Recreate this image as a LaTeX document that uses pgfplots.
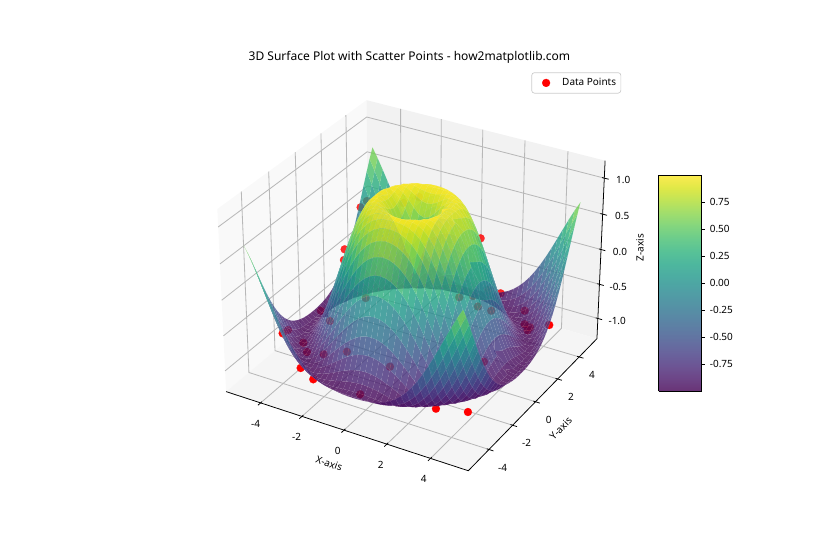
\documentclass[border=0pt]{standalone}
\usepackage{pgfplots}
\usepackage{pgfplotstable}
\usepackage{fontspec}
\setmainfont{Noto Sans}
\pgfplotsset{compat=1.18}
\usepgfplotslibrary{patchplots}
\definecolor{gridc}{gray}{0.72}
\newcommand\DEN[3]{(10-(.04521*(#1)-.07832*(#2)+.17577*(#3)+.00527))}
\newcommand\PXE[3]{(415+2331*(.09043*(#1)+.05221*(#2))/\DEN{#1}{#2}{#3})}
\newcommand\PYE[3]{(283.5+2331*(-.02611*(#1)+.04521*(#2)+.30443*(#3)+.0091)/\DEN{#1}{#2}{#3})}
\pgfplotsset{
 table/proj/.style={x expr={\PXE{\thisrow{x}}{\thisrow{y}}{\thisrow{z}}},y expr={\PYE{\thisrow{x}}{\thisrow{y}}{\thisrow{z}}},z expr={.04521*\thisrow{x}-.07832*\thisrow{y}+.17577*\thisrow{z}},row sep=\\},
 table/quad/.style 2 args={x index=0,y index=0,z index=0,
  x expr={\PXE{#1*.25*floor(\coordindex/21)}{#2*.25*mod(\coordindex,21)}{\thisrow{z}}},
  y expr={\PYE{#1*.25*floor(\coordindex/21)}{#2*.25*mod(\coordindex,21)}{\thisrow{z}}},
  z expr={.04521*(#1*.25*floor(\coordindex/21))-.07832*(#2*.25*mod(\coordindex,21))+.17577*\thisrow{z}}},
 sface/.style={surf,shader=faceted,faceted color=white,fill opacity=.8,draw opacity=.12,line width=.2pt,z buffer=sort,mesh/rows=21,mesh/cols=21,point meta=\thisrow{z},forget plot},
 canvas/.style={at={(0,0)},anchor=south west,scale only axis,width=8.4in,height=5.6in,
  xmin=0,xmax=840,ymin=0,ymax=560,zmin=-3,zmax=3,view={0}{90},hide axis,clip=false,
  colormap/viridis,point meta min=-.999,point meta max=.999}
}
\newcommand\Poly[2]{\addplot3[forget plot,mark=none,#1] table[proj]{x y z\\ #2};}
\newcommand\TL[3]{\node[font=\fontsize{7.2}{9}\selectfont] at (axis cs:#1,#2,0) {#3};}
\pgfplotstableread{
z
0
.247
.479
.682
.841
.949
.997
.984
.909
.778
.598
.382
.141
-.108
-.351
-.572
-.757
-.895
-.978
-.999
-.959
.247
.346
.530
.711
.858
.956
.999
.981
.903
.769
.588
.372
.131
-.118
-.359
-.579
-.762
-.899
-.980
-.999
-.957
.479
.530
.650
.784
.899
.975
1.000
.969
.882
.742
.558
.340
.100
-.146
-.384
-.599
-.777
-.908
-.983
-.998
-.952
.682
.711
.784
.873
.949
.994
.994
.945
.844
.696
.507
.287
.049
-.193
-.424
-.631
-.800
-.922
-.989
-.995
-.942
.841
.858
.899
.949
.988
1.000
.973
.903
.787
.628
.434
.214
-.021
-.256
-.478
-.674
-.831
-.941
-.995
-.990
-.926
.949
.956
.975
.994
1.000
.981
.928
.836
.705
.538
.340
.121
-.108
-.334
-.544
-.725
-.867
-.960
-.999
-.980
-.904
.997
.999
1.000
.994
.973
.928
.852
.742
.598
.424
.224
.009
-.211
-.424
-.618
-.782
-.905
-.979
-1.000
-.964
-.874
.984
.981
.969
.945
.903
.836
.742
.618
.465
.287
.090
-.118
-.325
-.522
-.697
-.839
-.941
-.993
-.993
-.939
-.834
.909
.903
.882
.844
.787
.705
.598
.465
.308
.131
-.060
-.256
-.448
-.625
-.777
-.895
-.971
-1.000
-.978
-.904
-.782
.778
.769
.742
.696
.628
.538
.424
.287
.131
-.040
-.220
-.400
-.572
-.725
-.852
-.943
-.992
-.995
-.950
-.856
-.717
.598
.588
.558
.507
.434
.340
.224
.090
-.060
-.220
-.384
-.544
-.691
-.818
-.917
-.979
-1.000
-.976
-.907
-.793
-.639
.382
.372
.340
.287
.214
.121
.009
-.118
-.256
-.400
-.544
-.680
-.800
-.899
-.966
-.998
-.990
-.939
-.847
-.714
-.546
.141
.131
.100
.049
-.021
-.108
-.211
-.325
-.448
-.572
-.691
-.800
-.891
-.958
-.995
-.996
-.959
-.882
-.767
-.617
-.437
-.108
-.118
-.146
-.193
-.256
-.334
-.424
-.522
-.625
-.725
-.818
-.899
-.958
-.993
-.998
-.969
-.904
-.803
-.668
-.504
-.314
-.351
-.359
-.384
-.424
-.478
-.544
-.618
-.697
-.777
-.852
-.917
-.966
-.995
-.998
-.972
-.914
-.824
-.701
-.550
-.374
-.179
-.572
-.579
-.599
-.631
-.674
-.725
-.782
-.839
-.895
-.943
-.979
-.998
-.996
-.969
-.914
-.830
-.717
-.577
-.413
-.229
-.033
-.757
-.762
-.777
-.800
-.831
-.867
-.905
-.941
-.971
-.992
-1.000
-.990
-.959
-.904
-.824
-.717
-.586
-.432
-.259
-.073
.120
-.895
-.899
-.908
-.922
-.941
-.960
-.979
-.993
-1.000
-.995
-.976
-.939
-.882
-.803
-.701
-.577
-.432
-.269
-.093
.091
.275
-.978
-.980
-.983
-.989
-.995
-.999
-1.000
-.993
-.978
-.950
-.907
-.847
-.767
-.668
-.550
-.413
-.259
-.093
.081
.257
.429
-.999
-.999
-.998
-.995
-.990
-.980
-.964
-.939
-.904
-.856
-.793
-.714
-.617
-.504
-.374
-.229
-.073
.091
.257
.421
.576
-.959
-.957
-.952
-.942
-.926
-.904
-.874
-.834
-.782
-.717
-.639
-.546
-.437
-.314
-.179
-.033
.120
.275
.429
.576
.709
}\zgrid
\begin{document}
\begin{tikzpicture}
\path[use as bounding box] (0,0) rectangle (8.4in,5.6in);
\begin{axis}[canvas,
 legend style={at={(axis cs:621.3,487.7,0)},anchor=north east,draw=black!20,line width=.5pt,rounded corners=2pt,font=\fontsize{7.2}{9}\selectfont,inner xsep=1.5pt,inner ysep=2pt,legend cell align=left,/tikz/every even column/.style={column sep=2pt}},
 legend image code/.code={\path (0,0) (.25in,0);\draw[#1,mark=*] plot coordinates {(.12in,0)};},
]
% panes
\Poly{draw=none,fill={rgb,1:red,.975;green,.975;blue,.975}}{-5.7 -5.7 -1.3\\ -5.7 5.7 -1.3\\ -5.7 5.7 1.24\\ -5.7 -5.7 1.24\\}
\Poly{draw=none,fill={rgb,1:red,.95;green,.95;blue,.95}}{-5.7 5.7 -1.3\\ 5.7 5.7 -1.3\\ 5.7 5.7 1.24\\ -5.7 5.7 1.24\\}
\Poly{draw=none,fill={rgb,1:red,.9625;green,.9625;blue,.9625}}{-5.7 -5.7 -1.3\\ 5.7 -5.7 -1.3\\ 5.7 5.7 -1.3\\ -5.7 5.7 -1.3\\}
% grid
\pgfplotsinvokeforeach{-4,-2,0,2,4}{
 \Poly{draw=gridc,line width=.6pt}{#1 -5.7 -1.3\\ #1 5.7 -1.3\\ #1 5.7 1.24\\}
 \Poly{draw=gridc,line width=.6pt}{5.7 #1 -1.3\\ -5.7 #1 -1.3\\ -5.7 #1 1.24\\}
 \Poly{draw=black,line width=.56pt}{#1 -5.9 -1.3\\ #1 -5.6 -1.3\\}
 \Poly{draw=black,line width=.56pt}{5.9 #1 -1.3\\ 5.6 #1 -1.3\\}
}
\pgfplotsinvokeforeach{-1,-.5,0,.5,1}{
 \Poly{draw=gridc,line width=.6pt}{5.7 5.7 #1\\ -5.7 5.7 #1\\ -5.7 -5.7 #1\\}
 \Poly{draw=black,line width=.56pt}{5.6 5.7 #1\\ 5.9 5.7 #1\\}
}
% axis lines
\Poly{draw=black,line width=.56pt}{-5.7 -5.7 -1.3\\ 5.7 -5.7 -1.3\\ 5.7 5.7 -1.3\\ 5.7 5.7 1.24\\}
% scatter points
\addplot3[color=red,only marks,mark=*,mark size=2.9pt,mark options={line width=.1pt}] coordinates {
(436,151.3,0)(468,148,0)(300.7,192,0)(313.3,180.7,0)(282.7,226.7,0)(549.3,235,0)
};
\addlegendentry{Data Points}
\addplot3[color=red,forget plot,only marks,mark=*,mark size=2.9pt,mark options={line width=.1pt},opacity=.82] coordinates {
(344.7,310.7,0)(344,300,0)(360.7,352.7,0)(480.7,321.7,0)(500.7,266.7,0)
(367,359,0)(365.7,262,0)(321,249.3,0)(330,239,0)(288,230,0)(303.3,217.3,0)(307,208,0)(323.7,205.7,0)
(347,208.3,0)(390,193.3,0)(360.3,165.7,0)(478,253.5,0)(484,198.3,0)(459.3,262.7,0)(473,264,0)
(491.3,249.3,0)(524.7,249.3,0)(524.7,235.7,0)(530,232.7,0)(527.7,229.7,0)(403.5,357,0)(419,363,0)(488,270,0)
};
\end{axis}
\begin{axis}[canvas]
% surface, back to front
\addplot3[sface] table[quad={-1}{1}]\zgrid;
\addplot3[sface] table[quad={-1}{-1}]\zgrid;
\addplot3[sface] table[quad={1}{1}]\zgrid;
\addplot3[sface] table[quad={1}{-1}]\zgrid;
% labels
\node[font=\fontsize{8.7}{11}\selectfont] at (axis cs:409.5,503,0) {3D Surface Plot with Scatter Points - how2matplotlib.com};
\TL{255.7}{136}{-4}\TL{296.7}{122.7}{-2}\TL{337.7}{109}{0}\TL{380.7}{94.7}{2}\TL{423.7}{80.7}{4}
\TL{502.7}{91.7}{-4}\TL{526.7}{116.7}{-2}\TL{548.7}{140}{0}\TL{571}{162.7}{2}\TL{592}{185}{4}
\TL{623.3}{380}{1.0}\TL{622.3}{344}{0.5}\TL{620}{308}{0.0}\TL{618.3}{273}{-0.5}\TL{617.3}{239}{-1.0}
\node[font=\fontsize{7.2}{9}\selectfont,rotate=-20] at (axis cs:329.3,96.7,0) {X-axis};
\node[font=\fontsize{7.2}{9}\selectfont,rotate=46] at (axis cs:560.7,131.7,0) {Y-axis};
\node[font=\fontsize{7.2}{9}\selectfont,rotate=90] at (axis cs:640,312.3,0) {Z-axis};
\end{axis}
\begin{axis}[
 at={(6.585in,1.69in)},anchor=south west,scale only axis,width=.43in,height=2.16in,
 xmin=0,xmax=1,ymin=-.999,ymax=.999,view={0}{90},colormap/viridis,
 xtick=\empty,ytick={-.75,-.5,-.25,0,.25,.5,.75},ytick pos=right,yticklabel pos=right,tick align=outside,
 major tick length=2.5pt,tick style={black,line width=.56pt},axis line style={black,line width=.56pt},
 yticklabel style={font=\fontsize{7.2}{9}\selectfont,/pgf/number format/fixed,/pgf/number format/fixed zerofill,/pgf/number format/precision=2,/pgf/number format/assume math mode=true},
 axis on top,
]
\addplot3[surf,shader=interp,opacity=.8,point meta=y] coordinates {
(0,-.999,0) (1,-.999,0)

(0,.999,0) (1,.999,0)
};
\end{axis}
\end{tikzpicture}
\end{document}
